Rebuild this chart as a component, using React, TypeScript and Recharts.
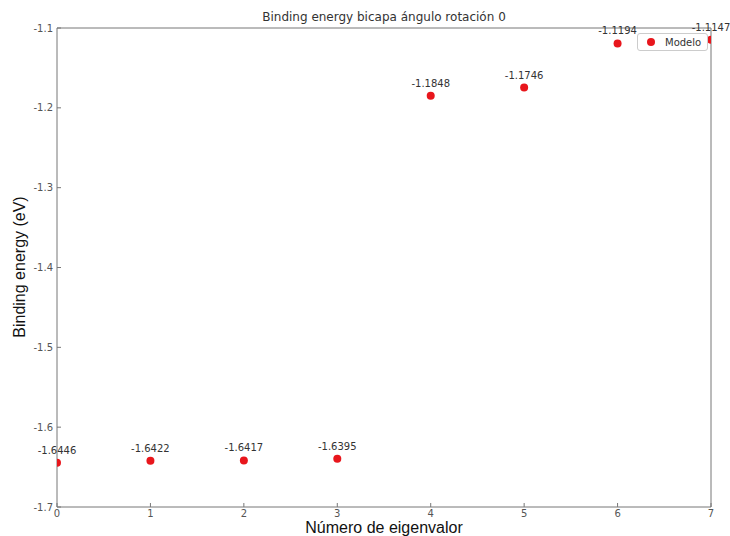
import { ScatterChart, Scatter, XAxis, YAxis, ReferenceLine } from "recharts";

// eigenvalue index vs. binding energy (eV)
const eigenIndex = [0, 1, 2, 3, 4, 5, 6, 7];
const bindingEnergy = [-1.6446, -1.6422, -1.6417, -1.6395, -1.1848, -1.1746, -1.1194, -1.1147];
const xTicks = [0, 1, 2, 3, 4, 5, 6, 7];
const yTicks = [-1.7, -1.6, -1.5, -1.4, -1.3, -1.2, -1.1];

const seriesName = "Modelo";
const title = "Binding energy bicapa ángulo rotación 0";
const xLabel = "Número de eigenvalor";
const yLabel = "Binding energy (eV)";

const data = eigenIndex.map((x, i) => ({ x, y: bindingEnergy[i] }));

const RED = "#e8161c";
const SPINE = "#777";
const TICK_FONT = "'DejaVu Sans', sans-serif";

const XTick = ({ x, y, payload }: any) => (
  <g>
    <line x1={x} x2={x} y1={y} y2={y - 4} stroke={SPINE} />
    <text x={x} y={y + 10} textAnchor="middle" fontSize={10} fontFamily={TICK_FONT} fill="#555">
      {payload.value}
    </text>
  </g>
);

const YTick = ({ x, y, payload }: any) => (
  <g>
    <line x1={x} x2={x + 4} y1={y} y2={y} stroke={SPINE} />
    <text x={x - 4} y={y + 3.5} textAnchor="end" fontSize={10} fontFamily={TICK_FONT} fill="#555">
      {Number(payload.value).toFixed(1)}
    </text>
  </g>
);

// dots are clipped to the frame (x axis has allowDataOverflow)
const Dot = ({ cx, cy }: any) => <circle cx={cx} cy={cy} r={4} fill={RED} />;

// value labels go on a second, unclipped scatter so they can spill over the frame
const ValueLabel = ({ cx, cy, payload }: any) => (
  <text x={cx} y={cy - 9} textAnchor="middle" fontSize={10} fontFamily={TICK_FONT} fill="#333">
    {payload.y.toFixed(4)}
  </text>
);

export default function App() {
  return (
    <div style={{ position: "absolute", left: 0, top: 0, width: 730, height: 536, background: "#fff" }}>
      <ScatterChart width={730} height={536} margin={{ top: 28, right: 19, bottom: 0, left: 0 }}>
        <XAxis
          dataKey="x"
          type="number"
          domain={[0, 7]}
          ticks={xTicks}
          allowDataOverflow
          height={29}
          stroke={SPINE}
          tickLine={false}
          tickSize={0}
          tickMargin={0}
          tick={<XTick />}
        />
        <XAxis xAxisId="lbl" dataKey="x" type="number" domain={[0, 7]} hide />
        <YAxis
          dataKey="y"
          type="number"
          domain={[-1.7, -1.1]}
          ticks={yTicks}
          width={57}
          stroke={SPINE}
          tickLine={false}
          tickSize={0}
          tickMargin={0}
          tick={<YTick />}
        />
        <ReferenceLine y={-1.1} stroke={SPINE} ifOverflow="visible" />
        <ReferenceLine x={7} stroke={SPINE} ifOverflow="visible" />
        <Scatter name={seriesName} data={data} fill={RED} shape={<Dot />} isAnimationActive={false} />
        <Scatter
          xAxisId="lbl"
          data={data}
          legendType="none"
          shape={<ValueLabel />}
          isAnimationActive={false}
        />
      </ScatterChart>

      {/* legend box, top right inside the frame */}
      <div
        style={{
          position: "absolute",
          left: 637,
          top: 33,
          boxSizing: "border-box",
          width: 71,
          height: 18,
          border: "1px solid #ccc",
          borderRadius: 3,
          background: "#fff",
          display: "flex",
          alignItems: "center",
          fontFamily: TICK_FONT,
          fontSize: 10,
          color: "#333",
        }}
      >
        <span
          style={{
            display: "inline-block",
            width: 8,
            height: 8,
            borderRadius: 4,
            background: RED,
            marginLeft: 9,
            marginRight: 10,
          }}
        />
        {seriesName}
      </div>

      <div
        style={{
          position: "absolute",
          left: 57,
          width: 654,
          top: 10,
          textAlign: "center",
          fontFamily: TICK_FONT,
          fontSize: 12,
          color: "#333",
          lineHeight: "14px",
        }}
      >
        {title}
      </div>
      <div
        style={{
          position: "absolute",
          left: 57,
          width: 654,
          top: 520,
          textAlign: "center",
          fontFamily: "'Liberation Sans', Arial, sans-serif",
          fontSize: 16,
          color: "#111",
          lineHeight: "15px",
        }}
      >
        {xLabel}
      </div>
      <div
        style={{
          position: "absolute",
          left: 20,
          top: 267,
          transform: "translate(-50%, -50%) rotate(-90deg)",
          whiteSpace: "nowrap",
          fontFamily: "'Liberation Sans', Arial, sans-serif",
          fontSize: 16,
          color: "#111",
          lineHeight: "20px",
        }}
      >
        {yLabel}
      </div>
    </div>
  );
}
